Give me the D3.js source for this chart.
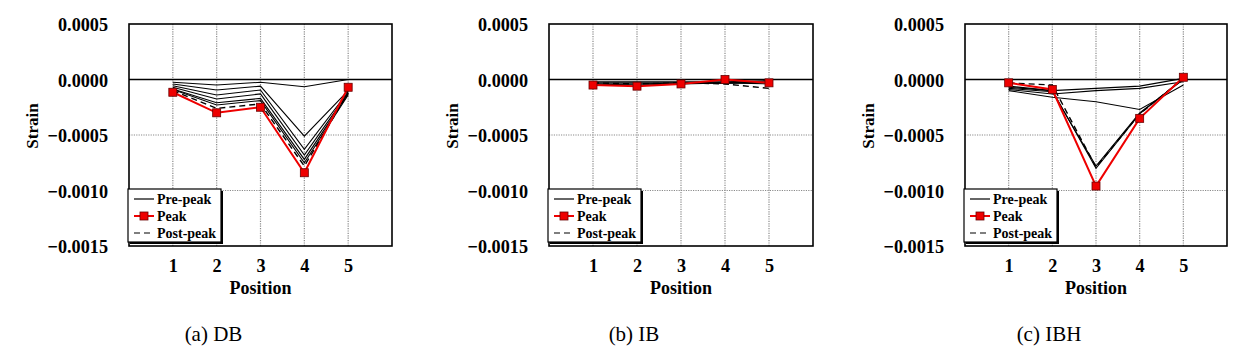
<!DOCTYPE html>
<html>
<head>
<meta charset="utf-8">
<script src="https://cdn.jsdelivr.net/npm/d3@7"></script>
<style>
  body { margin: 0; background: #fff; }
  svg { display: block; }
</style>
</head>
<body>
<svg width="1249" height="363"></svg>
<script>
// données
const positions = [1, 2, 3, 4, 5];
const yTicks = [0.0005, 0, -0.0005, -0.0010, -0.0015];
const legendLabels = ["Pre-peak", "Peak", "Post-peak"];

// (a) DB
const dbPre = [
  [-0.000025, -0.00005, -0.000025, -0.000065, 0.0],
  [-0.00004, -0.000095, -0.00006, -0.00051, -0.00010],
  [-0.000056, -0.00014, -0.000095, -0.00063, -0.00011],
  [-0.00007, -0.000175, -0.00013, -0.00068, -0.00012],
  [-0.000085, -0.00021, -0.00017, -0.00072, -0.00013],
  [-0.00009, -0.00023, -0.00019, -0.00075, -0.00014]
];
const dbPost = [-0.0001, -0.00026, -0.00022, -0.00078, -0.00012];
const dbPeak = [-0.000115, -0.0003, -0.00025, -0.00084, -0.00007];

// (b) IB
const ibPre = [
  [-0.00002, -0.00002, -0.00002, -0.00002, -0.00001],
  [-0.00003, -0.00003, -0.00003, -0.00003, -0.00002],
  [-0.00004, -0.00004, -0.00003, -0.00003, -0.00003],
  [-0.00004, -0.00005, -0.00004, -0.00003, -0.00004]
];
const ibPost = [-0.00003, -0.00004, -0.00003, -0.00004, -0.00008];
const ibPeak = [-0.00005, -0.00006, -0.00004, 0.0, -0.00003];

// (c) IBH
const ibhPre = [
  [-0.00007, -0.0001, -0.00008, -0.00006, 0.00001],
  [-0.00009, -0.00013, -0.0001, -0.00008, -0.00002],
  [-0.0001, -0.00016, -0.0002, -0.00027, -0.00005],
  [-0.00008, -0.00011, -0.00078, -0.0003, 0.0],
  [-0.00006, -0.0001, -0.0008, -0.00031, 0.00001]
];
const ibhPost = [-0.00003, -0.00005, -0.00079, -0.00031, 0.00001];
const ibhPeak = [-0.00003, -0.00009, -0.00096, -0.00035, 0.00002];

const panels = [
  {caption: "(a) DB", left: 129, right: 392, pre: dbPre, post: dbPost, peak: dbPeak},
  {caption: "(b) IB", left: 549, right: 813, pre: ibPre, post: ibPost, peak: ibPeak},
  {caption: "(c) IBH", left: 965, right: 1227, pre: ibhPre, post: ibhPost, peak: ibhPeak}
];

const FONT = "'Liberation Serif', 'Times New Roman', serif";
const svg = d3.select("svg");
const plotTop = 24, plotBottom = 246;

function texte(sel, size, bold) {
  return sel.style("font-family", FONT).style("font-size", size + "px")
    .style("font-weight", bold ? "bold" : "normal").attr("fill", "#000");
}

function panneau(p) {
  const g = svg.append("g");
  const x = d3.scaleLinear().domain([0, 6]).range([p.left, p.right]);
  const y = d3.scaleLinear().domain([-0.0015, 0.0005]).range([plotBottom, plotTop]);
  const cx = (p.left + p.right) / 2;

  // grille pointillée
  g.selectAll(".vg").data(positions).enter().append("line")
    .attr("x1", d => x(d)).attr("x2", d => x(d))
    .attr("y1", plotTop).attr("y2", plotBottom)
    .attr("stroke", "#8a8a8a").attr("stroke-width", 1.2).attr("stroke-dasharray", "1.2,1.2");
  g.selectAll(".hg").data([-0.0005, -0.0010]).enter().append("line")
    .attr("x1", p.left).attr("x2", p.right)
    .attr("y1", d => y(d)).attr("y2", d => y(d))
    .attr("stroke", "#8a8a8a").attr("stroke-width", 1.2).attr("stroke-dasharray", "1.2,1.2");

  // ligne zéro
  g.append("line").attr("x1", p.left).attr("x2", p.right)
    .attr("y1", y(0)).attr("y2", y(0))
    .attr("stroke", "#000").attr("stroke-width", 1.4);

  // cadre
  g.append("rect").attr("x", p.left).attr("y", plotTop)
    .attr("width", p.right - p.left).attr("height", plotBottom - plotTop)
    .attr("fill", "none").attr("stroke", "#000").attr("stroke-width", 1.6);

  // axes (texte seulement)
  const yAxis = g.append("g").attr("transform", `translate(${p.left},0)`)
    .call(d3.axisLeft(y).tickValues(yTicks).tickFormat(d3.format(".4f")).tickSize(0).tickPadding(21));
  yAxis.select(".domain").remove();
  texte(yAxis.selectAll("text"), 18.2, true).attr("dy", "0.36em");

  const xAxis = g.append("g").attr("transform", `translate(0,${plotBottom})`)
    .call(d3.axisBottom(x).tickValues(positions).tickFormat(d3.format("d")).tickSize(0).tickPadding(13));
  xAxis.select(".domain").remove();
  texte(xAxis.selectAll("text"), 18.2, true);

  texte(g.append("text"), 18, true).attr("x", cx).attr("y", 294)
    .attr("text-anchor", "middle").text("Position");
  texte(g.append("text"), 17, true)
    .attr("transform", `translate(${p.left - 91},${(plotTop + plotBottom) / 2 - 9}) rotate(-90)`)
    .attr("text-anchor", "middle").text("Strain");
  texte(g.append("text"), 21, false).attr("x", cx - 47).attr("y", 341)
    .attr("text-anchor", "middle").text(p.caption);

  const line = d3.line().x((d, i) => x(positions[i])).y(d => y(d));

  g.selectAll(".pre").data(p.pre).enter().append("path")
    .attr("d", line).attr("fill", "none").attr("stroke", "#000").attr("stroke-width", 1.1);
  g.append("path").datum(p.post).attr("d", line).attr("fill", "none")
    .attr("stroke", "#000").attr("stroke-width", 1.4).attr("stroke-dasharray", "6,4");
  g.append("path").datum(p.peak).attr("d", line).attr("fill", "none")
    .attr("stroke", "#ee0000").attr("stroke-width", 2);
  g.selectAll(".mk").data(p.peak).enter().append("rect")
    .attr("x", (d, i) => x(positions[i]) - 4).attr("y", d => y(d) - 4)
    .attr("width", 8).attr("height", 8)
    .attr("fill", "#ee0000").attr("stroke", "#6a0000").attr("stroke-width", 0.8);

  // légende
  const lx = p.left - 1, ly = 189;
  const lg = g.append("g");
  lg.append("rect").attr("x", lx + 2).attr("y", ly + 2).attr("width", 93).attr("height", 53).attr("fill", "#000");
  lg.append("rect").attr("x", lx).attr("y", ly).attr("width", 93).attr("height", 53)
    .attr("fill", "#fff").attr("stroke", "#000").attr("stroke-width", 1.2);
  legendLabels.forEach((lab, i) => {
    const ry = ly + 10 + i * 17;
    const s = lg.append("line").attr("x1", lx + 6).attr("x2", lx + 26).attr("y1", ry).attr("y2", ry)
      .attr("stroke", i === 1 ? "#ee0000" : "#000").attr("stroke-width", i === 1 ? 2 : 1.2);
    if (i === 2) s.attr("stroke-dasharray", "6,4");
    if (i === 1) lg.append("rect").attr("x", lx + 12).attr("y", ry - 4).attr("width", 8).attr("height", 8)
      .attr("fill", "#ee0000").attr("stroke", "#6a0000").attr("stroke-width", 0.8);
    texte(lg.append("text"), 14, true).attr("x", lx + 29).attr("y", ry + 5).text(lab);
  });
}

panels.forEach(panneau);
</script>
</body>
</html>
